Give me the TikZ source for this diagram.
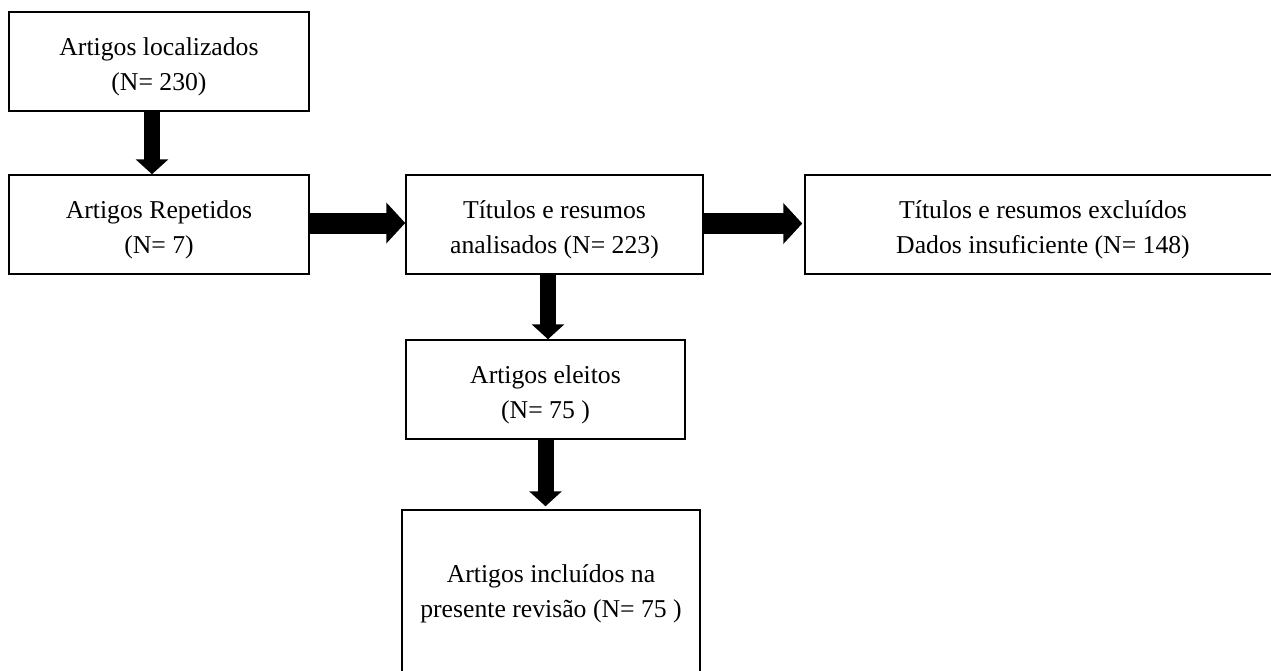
\documentclass[tikz,border=0pt]{standalone}
\usepackage{fontspec}
\setmainfont{Liberation Serif}
\usetikzlibrary{arrows.meta}
\newcommand{\topstrut}{\rule{0pt}{28pt}}
\newcommand{\botstrut}{\rule[-14pt]{0pt}{14pt}}
\tikzset{
  box/.style={draw=black, line width=1.5pt, rectangle, align=center, inner sep=0pt,
    font=\fontsize{25.7}{35}\selectfont},
  vblock/.style={line width=16pt, -{Triangle[width=32pt,length=15pt]}},
  hblock/.style={line width=21pt, -{Triangle[width=40pt,length=19pt]}}
}
\begin{document}
\begin{tikzpicture}[x=1pt,y=-1pt]
\clip (0,0) rectangle (1271,670);
\fill[white] (0,0) rectangle (1271,670);
\node[box, minimum width=300pt, minimum height=99pt] (a) at (159,61.5) {\topstrut Artigos localizados\\(N= 230)};
\node[box, minimum width=300pt, minimum height=99pt] (b) at (159,224.5) {\topstrut Artigos Repetidos\\(N= 7)};
\node[box, minimum width=297pt, minimum height=99pt] (c) at (554.5,224.5) {\topstrut Títulos e resumos\\analisados (N= 223)};
\node[box, minimum width=476pt, minimum height=99pt] (d) at (1043,224.5) {\topstrut Títulos e resumos excluídos\\Dados insuficiente (N= 148)};
\node[box, minimum width=279pt, minimum height=99pt] (e) at (545.5,389.5) {\topstrut Artigos eleitos\\(N= 75 )};
\node[box, minimum width=298pt, minimum height=166pt] (f) at (551,593) {\topstrut Artigos incluídos na\\presente revisão (N= 75 )\botstrut};
\draw[vblock] ([xshift=-7pt]a.south) -- ([xshift=-7pt]b.north);
\draw[hblock] ([yshift=1.5pt]b.east) -- ([yshift=1.5pt]c.west);
\draw[hblock] ([yshift=1pt]c.east) -- ([yshift=1pt,xshift=-2pt]d.west);
\draw[vblock] ([xshift=-6.5pt]c.south) -- ([xshift=-6.5pt]c.south |- e.north);
\draw[vblock] (e.south) -- ([yshift=3pt]e.south |- f.north);
\end{tikzpicture}
\end{document}
